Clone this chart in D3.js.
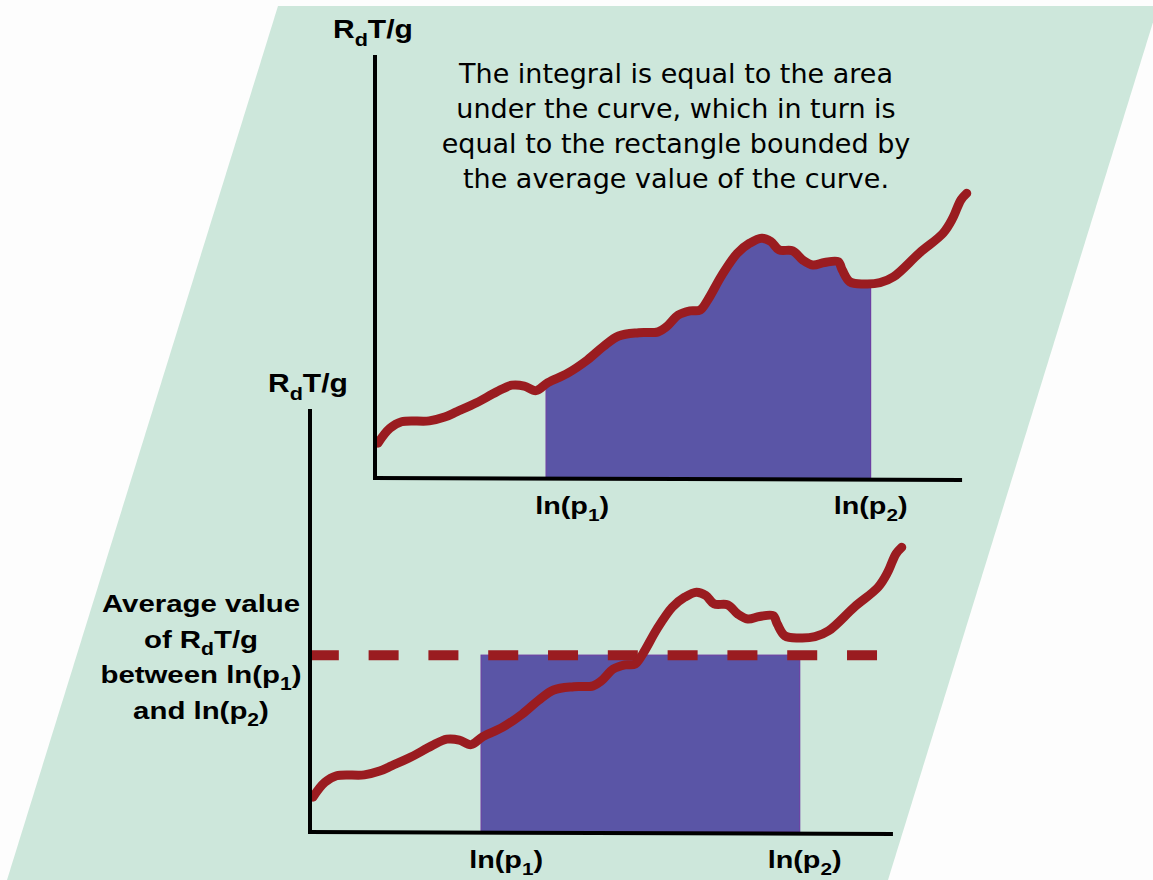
<!DOCTYPE html>
<html lang="en">
<head>
<meta charset="UTF-8">
<title>Average value of RdT/g</title>
<script src="https://d3js.org/d3.v7.min.js"></script>
<style>
  body { margin: 0; background: #fdfdfd; }
  svg { display: block; }
</style>
</head>
<body>
<div class="chartContainer"></div>
<script>
// Data (x and y in 0..100 units along each axis)
const curveX = [0.5, 2.5, 4.5, 9.2, 11.8, 13.9, 17.2, 20.6, 23.2, 25.3, 27.3, 29.3, 32.6, 36.0, 38.7, 41.3,
                44.7, 48.0, 49.4, 51.4, 53.4, 55.1, 56.4, 58.8, 61.4, 63.5, 65.5, 67.1, 68.5, 70.8, 72.5,
                74.2, 76.2, 78.5, 79.2, 80.5, 82.9, 85.6, 87.9, 92.3, 96.3, 97.9, 99.3, 100.3];
const curveY = [8.3, 11.8, 13.4, 13.6, 14.5, 15.8, 17.9, 20.5, 22.1, 21.9, 20.8, 22.7, 24.9, 28.1, 31.3, 33.8,
                34.6, 34.8, 36.0, 38.8, 39.8, 40.0, 42.4, 48.3, 53.5, 55.9, 57.1, 56.3, 54.3, 54.1, 51.9,
                50.7, 51.3, 51.5, 49.5, 46.7, 46.2, 46.5, 47.9, 53.6, 58.3, 61.8, 66.2, 67.8];
const bounds = [29, 84];          // ln(p1), ln(p2)
const boundLabels = ['1', '2'];   // subscripts of p
const averageValue = 42.1;
const noteLines = ['The integral is equal to the area', 'under the curve, which in turn is',
                   'equal to the rectangle bounded by', 'the average value of the curve.'];
const avgLabelLines = ['Average value', 'of R|d|T/g', 'between ln(p|1|)', 'and ln(p|2|)'];

const W = 1153, H = 880;
const svg = d3.select('.chartContainer').append('svg').attr('width', W).attr('height', H);

// background parallelogram
svg.append('polygon')
   .attr('points', [[278, 6], [1158, 6], [888, 880], [7, 880]].map(p => p.join(',')).join(' '))
   .attr('fill', '#cde7db');

const points = curveX.map((x, i) => ({x: x, y: curveY[i]}));
const red = '#9a1c20', blue = '#5a55a6', edge = '#6a3fa3';
const boldFont = 'Liberation Sans, Arial, sans-serif';
const stretch = 1.2;   // labels in the picture are drawn wide
const labelShift = [25, -1];  // ln(p1) label sits right of its line

// value of the curve at x (linear between points)
function curveAt(x) {
  const i = Math.max(1, Math.min(points.length - 1, d3.bisector(d => d.x).left(points, x)));
  const a = points[i - 1], b = points[i];
  return a.y + (b.y - a.y) * (x - a.x) / (b.x - a.x);
}

// text with |sub| parts
function richText(sel, str, size) {
  str.split('|').forEach((part, i) => {
    if (!part) return;
    const t = sel.append('tspan').text(part);
    if (i % 2 === 1) t.attr('font-size', size * 0.72).attr('dy', size * 0.3);
    else if (i > 0) t.attr('dy', -size * 0.3);
  });
}

function boldLabel(parent, px, py, str, size, anchor) {
  const t = parent.append('g').attr('transform', `translate(${px},${py}) scale(${stretch},1)`)
    .append('text').attr('text-anchor', anchor)
    .attr('font-family', boldFont).attr('font-weight', 'bold').attr('font-size', size);
  richText(t, str, size);
}

function drawChart(g, x, y, mode, id) {
  const axisTop = y(100.7), axisRight = x(mode === 'area' ? 99.5 : 98.8);
  if (mode === 'area') {
    svg.append('clipPath').attr('id', id).append('rect')
       .attr('x', x(bounds[0])).attr('y', 0)
       .attr('width', x(bounds[1]) - x(bounds[0])).attr('height', H);
    g.append('path').datum(points)
     .attr('clip-path', `url(#${id})`)
     .attr('d', d3.area().x(d => x(d.x)).y0(y(0)).y1(d => y(d.y)).curve(d3.curveCatmullRom))
     .attr('fill', blue);
    bounds.forEach(b => g.append('line')
      .attr('x1', x(b)).attr('x2', x(b)).attr('y1', y(0)).attr('y2', y(curveAt(b)))
      .attr('stroke', edge).attr('stroke-width', 1.2));
  } else {
    g.append('rect')
     .attr('x', x(bounds[0])).attr('y', y(averageValue))
     .attr('width', x(bounds[1] - 1) - x(bounds[0])).attr('height', y(0) - y(averageValue))
     .attr('fill', blue).attr('stroke', edge).attr('stroke-width', 1.2);
    g.append('line')
     .attr('x1', x(-0.2)).attr('x2', x(96.5)).attr('y1', y(averageValue)).attr('y2', y(averageValue))
     .attr('stroke', red).attr('stroke-width', 10).attr('stroke-dasharray', '30 29.8');
  }
  g.append('path').datum(points)
   .attr('d', d3.line().x(d => x(d.x)).y(d => y(d.y)).curve(d3.curveCatmullRom))
   .attr('fill', 'none').attr('stroke', red).attr('stroke-width', 9).attr('stroke-linecap', 'round');

  // axes
  g.append('line').attr('x1', x(0)).attr('x2', x(0)).attr('y1', axisTop).attr('y2', y(0) + 2)
   .attr('stroke', '#000').attr('stroke-width', 4);
  g.append('line').attr('x1', x(0) - 2).attr('x2', axisRight).attr('y1', y(0)).attr('y2', y(0) + 2)
   .attr('stroke', '#000').attr('stroke-width', 4);

  boldLabel(g, x(0) - 42, axisTop - 17, 'R|d|T/g', 25, 'start');

  bounds.forEach((b, i) => {
    boldLabel(g, x(b) + labelShift[i] + (mode === 'area' ? 1 : 0), y(0) + 36,
              `ln(p|${boundLabels[i]}|)`, 24, 'middle');
  });
}

// top chart: area under the curve
const xTop = d3.scaleLinear().domain([0, 100]).range([375, 965]);
const yTop = d3.scaleLinear().domain([0, 100]).range([478, 58]);
drawChart(svg.append('g'), xTop, yTop, 'area', 'clipTop');

// bottom chart: rectangle of the average value
const xBot = d3.scaleLinear().domain([0, 100]).range([310, 900]);
const yBot = d3.scaleLinear().domain([0, 100]).range([832, 412]);
drawChart(svg.append('g'), xBot, yBot, 'rect', 'clipBot');

// note text
svg.append('g').selectAll('text').data(noteLines).enter().append('text')
   .attr('x', 676).attr('y', (d, i) => 83 + i * 35)
   .attr('text-anchor', 'middle')
   .attr('font-family', 'Comic Sans MS, DejaVu Sans, sans-serif')
   .attr('font-size', 27)
   .text(d => d);

// label for the average
const avgG = svg.append('g');
avgLabelLines.forEach((d, i) => boldLabel(avgG, 201, 612 + i * 35.5, d, 24.5, 'middle'));
</script>
</body>
</html>
